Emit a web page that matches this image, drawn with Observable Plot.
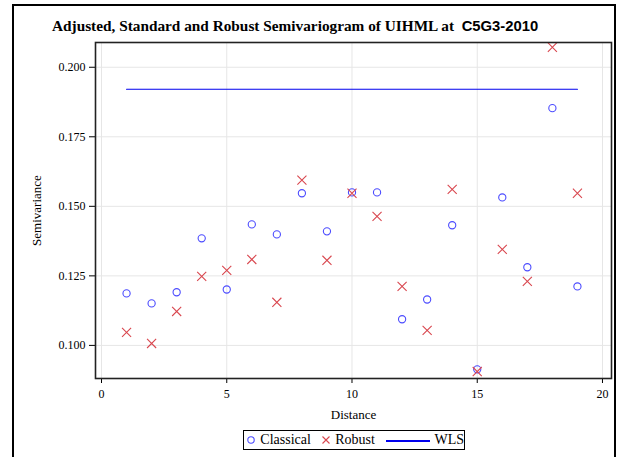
<!DOCTYPE html>
<html>
<head>
<meta charset="utf-8">
<script src="https://cdn.jsdelivr.net/npm/d3@7"></script>
<script src="https://cdn.jsdelivr.net/npm/@observablehq/plot@0.6"></script>
<style>
  html, body { margin: 0; padding: 0; background: #fff; }
  #wrap { position: relative; width: 623px; height: 457px; overflow: hidden; font-family: "Liberation Serif", "Times New Roman", serif; }
  #frame { position: absolute; left: 12px; top: 4px; width: 604px; height: 470px; border: 2px solid #000; box-sizing: border-box; }
  #title { position: absolute; left: 52px; top: 17px; font-size: 15.3px; font-weight: bold; color: #000; white-space: nowrap; }
  #title .sans { font-family: "Liberation Sans", Arial, sans-serif; font-size: 14.8px; }
  #legend { position: absolute; left: 243px; top: 430px; height: 20px; width: 222px; border: 1px solid #000; box-sizing: border-box; display: flex; align-items: center; justify-content: center; font-size: 14px; gap: 0; }
  #legend svg { display: block; }
  #chart { position: absolute; left: 0; top: 0; }
  #chart svg, #chart svg text { font-family: "Liberation Serif", "Times New Roman", serif !important; }
</style>
</head>
<body>
<div id="wrap">
  <div id="chart"></div>
  <div id="frame"></div>
  <div id="title">Adjusted, Standard and Robust Semivariogram of UIHML at&nbsp; <span class="sans">C5G3-2010</span></div>
  <div id="legend"></div>
</div>
<script>
const lags = [1,2,3,4,5,6,7,8,9,10,11,12,13,14,15,16,17,18,19];
const classical = [0.1187,0.1151,0.1191,0.1385,0.1201,0.1435,0.1399,0.1547,0.1410,0.1550,0.1550,0.1094,0.1165,0.1432,0.0914,0.1532,0.1281,0.1853,0.1212];
const robust = [0.1047,0.1007,0.1122,0.1248,0.1270,0.1309,0.1155,0.1594,0.1306,0.1547,0.1464,0.1212,0.1054,0.1561,0.0906,0.1345,0.1230,0.2072,0.1547];
const wlsLags = [1, 19];
const wlsLevel = 0.1921;
const xTicks = [0,5,10,15,20];
const yTicks = [0.100,0.125,0.150,0.175,0.200];

const blue = "#4b4bff";
const red = "#d9474f";
const lineBlue = "#0000ee";
const serif = "'Liberation Serif', 'Times New Roman', serif";

const classicalData = lags.map((d,i) => ({lag: d, v: classical[i]}));
const robustData = lags.map((d,i) => ({lag: d, v: robust[i]}));
const wlsData = wlsLags.map(d => ({lag: d, v: wlsLevel}));

const chart = Plot.plot({
  width: 623,
  height: 457,
  marginLeft: 95,
  marginRight: 12,
  marginTop: 42,
  marginBottom: 79,
  style: {fontSize: "12px", fontFamily: serif, color: "#000", background: "transparent"},
  x: {domain: [-0.24, 20.36], ticks: xTicks},
  y: {domain: [0.0881, 0.2089], ticks: yTicks},
  marks: [
    Plot.gridX(xTicks, {stroke: "#e6e6e6", strokeOpacity: 1}),
    Plot.gridY(yTicks, {stroke: "#e6e6e6", strokeOpacity: 1}),
    Plot.axisX(xTicks, {tickSize: 5, tickPadding: 6, label: "Distance", labelAnchor: "center", labelArrow: "none", labelOffset: 40, fontSize: 12}),
    Plot.axisY(yTicks, {tickSize: 6, tickPadding: 4, tickFormat: d3.format(".3f"), label: "Semivariance", labelAnchor: "center", labelArrow: "none", labelOffset: 64, fontSize: 12}),
    Plot.line(wlsData, {x: "lag", y: "v", stroke: lineBlue, strokeWidth: 1.2}),
    Plot.dot(classicalData, {x: "lag", y: "v", symbol: "circle", stroke: blue, fill: "none", r: 3.6, strokeWidth: 1.1}),
    Plot.dot(robustData, {x: "lag", y: "v", symbol: "times", stroke: red, r: 4.2, strokeWidth: 1.1}),
    Plot.frame({stroke: "#222", strokeWidth: 1.6})
  ]
});
document.getElementById("chart").append(chart);
d3.select(chart).selectAll("text").attr("font-family", serif).style("font-family", serif);
d3.select(chart).selectAll("[aria-label='x-axis label'] text, [aria-label='y-axis label'] text").style("font-size", "13px");

// legend
const leg = d3.select("#legend");
const items = [
  {type: "circle", label: "Classical"},
  {type: "times", label: "Robust"},
  {type: "line", label: "WLS"}
];
items.forEach((it, i) => {
  const w = it.type === "line" ? 54 : 14;
  const s = leg.append("svg").attr("width", w).attr("height", 16).style("margin-left", i === 0 ? "0px" : "8px");
  if (it.type === "circle") {
    s.append("circle").attr("cx", 7).attr("cy", 8).attr("r", 3.2).attr("fill", "none").attr("stroke", blue).attr("stroke-width", 1.1);
  } else if (it.type === "times") {
    s.append("path").attr("d", "M3.5,4.5L10.5,11.5M3.5,11.5L10.5,4.5").attr("stroke", red).attr("stroke-width", 1.1);
  } else {
    s.append("line").attr("x1", 3).attr("x2", 50).attr("y1", 9).attr("y2", 9).attr("stroke", lineBlue).attr("stroke-width", 2.2);
  }
  leg.append("span").text(it.label).style("margin-left", it.type === "line" ? "4px" : "4px");
});
</script>
</body>
</html>
